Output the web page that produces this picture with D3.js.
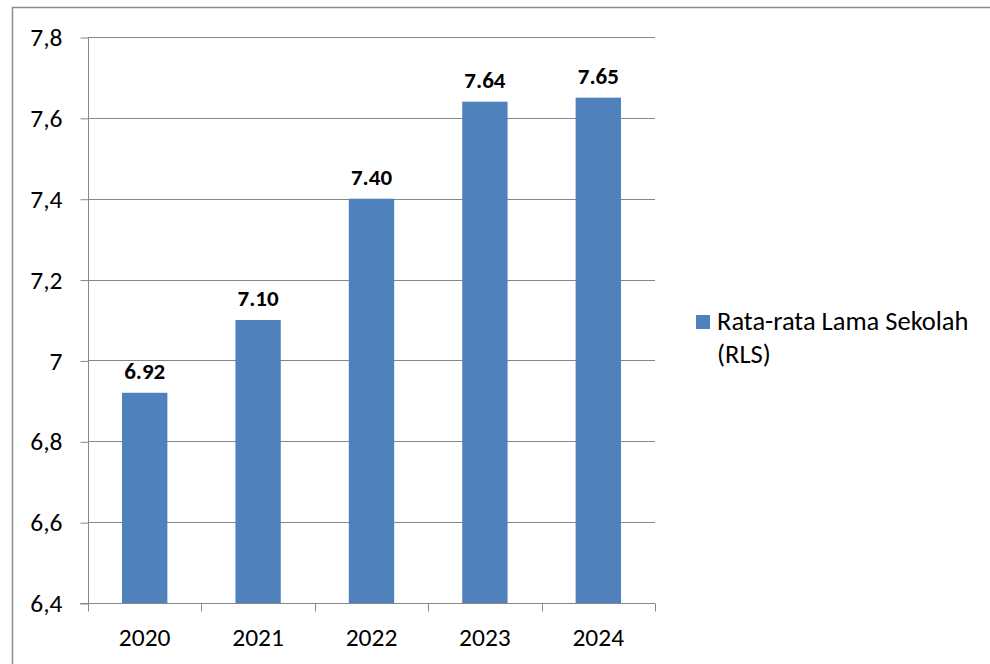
<!DOCTYPE html>
<html>
<head>
<meta charset="utf-8">
<script src="https://cdn.jsdelivr.net/npm/d3@7"></script>
<style>
  html, body { margin: 0; padding: 0; background: #fff; }
  svg { display: block; font-family: Carlito, "Open Sans", "Liberation Sans", sans-serif; }
</style>
</head>
<body>
<svg id="chart" width="990" height="664"></svg>
<script>
// Rata-rata Lama Sekolah per tahun
const years = ["2020", "2021", "2022", "2023", "2024"];
const rlsValues = [6.92, 7.10, 7.40, 7.64, 7.65];
const yTicks = [6.4, 6.6, 6.8, 7.0, 7.2, 7.4, 7.6, 7.8];
const yTickLabels = ["6,4", "6,6", "6,8", "7", "7,2", "7,4", "7,6", "7,8"];
const seriesName = ["Rata-rata Lama Sekolah", "(RLS)"];

const svg = d3.select("#chart");
const barColor = "#4F81BD";
const gridColor = "#868686";
const axisFont = 25.5;

// outer frame
svg.append("rect")
  .attr("x", 12.5).attr("y", 7.5)
  .attr("width", 990).attr("height", 670)
  .attr("fill", "none").attr("stroke", "#8c8c8c").attr("stroke-width", 1.5);

const plot = { left: 88, right: 655, top: 37, bottom: 603 };

const x = d3.scaleBand().domain(years).range([plot.left, plot.right]).paddingInner(0.6).paddingOuter(0.3);
const xOuter = d3.scaleBand().domain(years).range([plot.left, plot.right]);
const y = d3.scaleLinear().domain([6.4, 7.8]).range([plot.bottom, plot.top]);

// horizontal gridlines
svg.append("g").selectAll("line").data(yTicks.slice(1)).join("line")
  .attr("x1", plot.left).attr("x2", plot.right)
  .attr("y1", d => Math.round(y(d)) + 0.5).attr("y2", d => Math.round(y(d)) + 0.5)
  .attr("stroke", gridColor).attr("stroke-width", 1);

// y axis
const yAxis = d3.axisLeft(y).tickValues(yTicks).tickSize(8).tickPadding(18)
  .tickFormat((d, i) => yTickLabels[i]);
const gy = svg.append("g").attr("transform", `translate(${plot.left + 0.5},0.5)`).call(yAxis);
gy.select(".domain").attr("stroke", gridColor).attr("d", `M0,${plot.top}V${plot.bottom}`);
gy.selectAll(".tick line").attr("stroke", gridColor);
gy.selectAll(".tick text").attr("font-size", axisFont).attr("fill", "#000")
  .attr("font-family", "Carlito, 'Open Sans', 'Liberation Sans', sans-serif");

// bars
svg.append("g").selectAll("rect").data(rlsValues).join("rect")
  .attr("x", (d, i) => x(years[i]))
  .attr("width", x.bandwidth())
  .attr("y", d => y(d))
  .attr("height", d => y(6.4) - y(d))
  .attr("fill", barColor);

// x axis
const bottomY = Math.round(y(6.4)) + 0.5;
svg.append("line").attr("x1", plot.left - 8).attr("x2", plot.right)
  .attr("y1", bottomY).attr("y2", bottomY).attr("stroke", gridColor);
const boundaries = years.map(d => xOuter(d)).concat([plot.right]);
svg.append("g").selectAll("line").data(boundaries).join("line")
  .attr("x1", d => Math.round(d) + 0.5).attr("x2", d => Math.round(d) + 0.5)
  .attr("y1", bottomY).attr("y2", bottomY + 8)
  .attr("stroke", gridColor);
svg.append("g").selectAll("text").data(years).join("text")
  .attr("x", d => xOuter(d) + xOuter.bandwidth() / 2)
  .attr("y", 646)
  .attr("text-anchor", "middle")
  .attr("font-size", axisFont).attr("fill", "#000")
  .text(d => d);

// value labels
svg.append("g").selectAll("text").data(rlsValues).join("text")
  .attr("x", (d, i) => x(years[i]) + x.bandwidth() / 2)
  .attr("y", d => y(d) - 14)
  .attr("text-anchor", "middle")
  .attr("font-size", 23).attr("font-weight", "bold").attr("fill", "#000")
  .text(d => d.toFixed(2));

// legend
const lg = svg.append("g");
lg.append("rect").attr("x", 696).attr("y", 315).attr("width", 14).attr("height", 14).attr("fill", barColor);
lg.selectAll("text").data(seriesName).join("text")
  .attr("x", 717).attr("y", (d, i) => 330 + i * 33)
  .attr("font-size", 26.5).attr("fill", "#000")
  .text(d => d);
</script>
</body>
</html>
